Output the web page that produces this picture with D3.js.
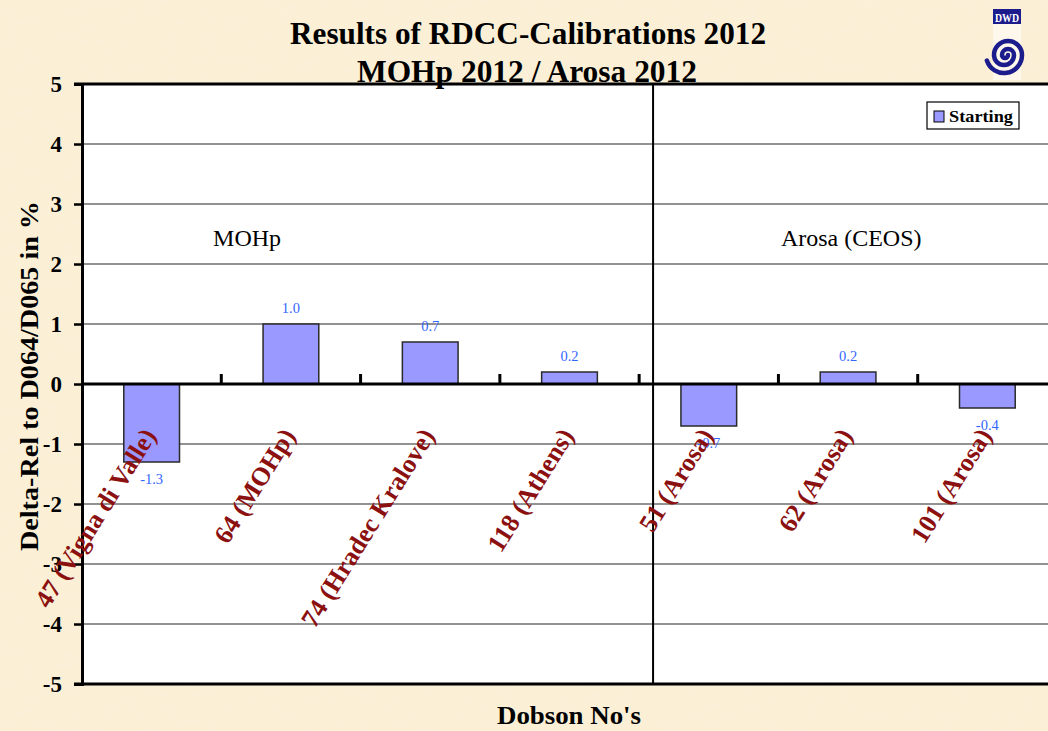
<!DOCTYPE html>
<html>
<head>
<meta charset="utf-8">
<script src="https://cdn.jsdelivr.net/npm/d3@7"></script>
<style>
  html, body { margin: 0; padding: 0; background: #fbefd4; }
  svg { display: block; }
  text { font-family: "Liberation Serif", "DejaVu Serif", serif; }
</style>
</head>
<body>
<svg id="chart" width="1048" height="731"></svg>
<script>
// ---- data ----
const categories = ["47 (Vigna di Valle)", "64 (MOHp)", "74 (Hradec Kralove)", "118 (Athens)", "51 (Arosa)", "62 (Arosa)", "101 (Arosa)"];
const startingValues = [-1.3, 1.0, 0.7, 0.2, -0.7, 0.2, -0.4];
const valueLabels = ["-1.3", "1.0", "0.7", "0.2", "-0.7", "0.2", "-0.4"];
const yTicks = [5, 4, 3, 2, 1, 0, -1, -2, -3, -4, -5];
const seriesName = "Starting";
const titleLines = ["Results of RDCC-Calibrations 2012", "MOHp 2012 / Arosa 2012"];
const groupNotes = ["MOHp", "Arosa (CEOS)"];

const W = 1048, H = 731;
const svg = d3.select("#chart");

// background with slight parchment mottling
const defs = svg.append("defs");
const flt = defs.append("filter").attr("id", "parch").attr("x", 0).attr("y", 0).attr("width", "100%").attr("height", "100%");
flt.append("feTurbulence").attr("type", "fractalNoise").attr("baseFrequency", "0.05 0.11").attr("numOctaves", 2).attr("seed", 3).attr("result", "n");
flt.append("feColorMatrix").attr("in", "n").attr("type", "matrix")
  .attr("values", "0 0 0 0 0.97  0 0 0 0 0.90  0 0 0 0 0.76  0 0 0 0.3 0");
svg.append("rect").attr("width", W).attr("height", H).attr("fill", "#fbefd4");
svg.append("rect").attr("width", W).attr("height", H).attr("filter", "url(#parch)");

const margin = { left: 82, top: 84, bottom: 684, right: 1057 };

const x = d3.scaleBand().domain(categories).range([margin.left, margin.right])
  .paddingInner(0.6).paddingOuter(0.3);
const y = d3.scaleLinear().domain([-5, 5]).range([margin.bottom, margin.top]);

// plot area
svg.append("rect").attr("x", margin.left).attr("y", margin.top)
  .attr("width", margin.right - margin.left).attr("height", margin.bottom - margin.top)
  .attr("fill", "#ffffff");

// gridlines
svg.append("g").selectAll("line").data(yTicks.filter(d => d !== 0 && Math.abs(d) !== 5)).join("line")
  .attr("x1", margin.left).attr("x2", margin.right)
  .attr("y1", d => y(d)).attr("y2", d => y(d))
  .attr("stroke", "#6e6e6e").attr("stroke-width", 1.5);
svg.append("g").selectAll("line").data([5, -5]).join("line")
  .attr("x1", margin.left - 8).attr("x2", margin.right)
  .attr("y1", d => y(d)).attr("y2", d => y(d))
  .attr("stroke", "#000").attr("stroke-width", 3);

// y axis
const yAxis = d3.axisLeft(y).tickValues(yTicks).tickSize(8).tickPadding(12).tickFormat(d => String(d));
const gy = svg.append("g").attr("transform", `translate(${margin.left},0)`).call(yAxis);
gy.select(".domain").attr("stroke", "#000").attr("stroke-width", 3);
gy.selectAll(".tick line").attr("stroke", "#000").attr("stroke-width", 2.5);
gy.selectAll(".tick text").attr("font-family", "Liberation Serif, serif").attr("font-weight", "bold")
  .attr("font-size", 23).attr("fill", "#000");

// separator line between the two groups
const sepX = margin.left + x.step() * 4.1;
svg.append("line").attr("x1", sepX).attr("x2", sepX).attr("y1", y(5)).attr("y2", y(-5))
  .attr("stroke", "#000").attr("stroke-width", 2);

// bars
svg.append("g").selectAll("rect").data(startingValues).join("rect")
  .attr("x", (d, i) => x(categories[i]))
  .attr("width", x.bandwidth())
  .attr("y", d => y(Math.max(0, d)))
  .attr("height", d => Math.abs(y(d) - y(0)))
  .attr("fill", "#9999ff").attr("stroke", "#2a2a2a").attr("stroke-width", 1.5);

// zero line (x axis)
svg.append("line").attr("x1", margin.left).attr("x2", margin.right)
  .attr("y1", y(0)).attr("y2", y(0)).attr("stroke", "#000").attr("stroke-width", 3);

// category tick marks (upward, at band boundaries)
const bounds = categories.slice(1).map(c => x(c) - x.step() * x.paddingInner() / 2);
svg.append("g").selectAll("line").data(bounds).join("line")
  .attr("x1", d => d).attr("x2", d => d)
  .attr("y1", y(0)).attr("y2", y(0) - 10)
  .attr("stroke", "#000").attr("stroke-width", 3);

// value labels
svg.append("g").selectAll("text").data(startingValues).join("text")
  .attr("x", (d, i) => x(categories[i]) + x.bandwidth() / 2)
  .attr("y", d => d >= 0 ? y(d) - 11 : y(d) + 22)
  .attr("text-anchor", "middle")
  .attr("font-size", 14.5).attr("fill", "#3366ff")
  .text((d, i) => valueLabels[i]);

// category labels (rotated)
svg.append("g").selectAll("text").data(categories).join("text")
  .attr("transform", d => `translate(${x(d) + x.bandwidth() / 2 - 10},${y(0) + 42}) rotate(-58)`)
  .attr("text-anchor", "end").attr("dy", "0.7em")
  .attr("font-size", 26).attr("font-weight", "bold").attr("fill", "#8b1010")
  .text(d => d);

// group notes
svg.append("text").attr("x", x(categories[1]) - 16).attr("y", y(2.3))
  .attr("text-anchor", "middle").attr("font-size", 24).attr("fill", "#000").text(groupNotes[0]);
svg.append("text").attr("x", x(categories[5]) + 31).attr("y", y(2.3))
  .attr("text-anchor", "middle").attr("font-size", 24).attr("fill", "#000").text(groupNotes[1]);

// legend
const lg = svg.append("g").attr("transform", "translate(927,102)");
lg.append("rect").attr("width", 92).attr("height", 27).attr("fill", "#fff")
  .attr("stroke", "#000").attr("stroke-width", 1.2);
lg.append("rect").attr("x", 7).attr("y", 9).attr("width", 10).attr("height", 11)
  .attr("fill", "#9999ff").attr("stroke", "#000").attr("stroke-width", 1);
lg.append("text").attr("x", 22).attr("y", 20).attr("font-size", 17).attr("font-weight", "bold")
  .attr("textLength", 64).attr("lengthAdjust", "spacingAndGlyphs")
  .attr("fill", "#000").text(seriesName);

// titles
svg.append("text").attr("x", 528).attr("y", 44).attr("text-anchor", "middle")
  .attr("font-size", 32).attr("font-weight", "bold").attr("textLength", 476).attr("lengthAdjust", "spacingAndGlyphs")
  .text(titleLines[0]);
svg.append("text").attr("x", 527).attr("y", 82).attr("text-anchor", "middle")
  .attr("font-size", 32).attr("font-weight", "bold").attr("textLength", 340).attr("lengthAdjust", "spacingAndGlyphs")
  .text(titleLines[1]);

// axis titles
svg.append("text").attr("transform", `translate(38,${(y(5) + y(-5)) / 2 - 8}) rotate(-90)`)
  .attr("text-anchor", "middle").attr("font-size", 26).attr("font-weight", "bold")
  .attr("textLength", 350).attr("lengthAdjust", "spacingAndGlyphs")
  .text("Delta-Rel to D064/D065 in %");
svg.append("text").attr("x", 569).attr("y", 724).attr("text-anchor", "middle")
  .attr("font-size", 26).attr("font-weight", "bold")
  .attr("textLength", 144).attr("lengthAdjust", "spacingAndGlyphs")
  .text("Dobson No's");

// DWD logo (decoration)
const logo = svg.append("g").attr("transform", "translate(993,9)");
logo.append("rect").attr("width", 28).attr("height", 71).attr("fill", "#fdf7ec");
logo.append("rect").attr("width", 28).attr("height", 15).attr("fill", "#1c1c8c");
logo.append("text").attr("x", 14).attr("y", 12.5).attr("text-anchor", "middle")
  .attr("font-family", "Liberation Sans, sans-serif").attr("font-weight", "bold").attr("font-size", 12)
  .attr("textLength", 24).attr("lengthAdjust", "spacingAndGlyphs")
  .attr("fill", "#fff").text("DWD");
const sp = d3.path();
const cx = 12, cy = 46;
sp.moveTo(cx + 3, cy);
sp.arc(cx, cy, 3, 0, Math.PI, false);
sp.arc(cx + 3, cy, 6, Math.PI, 2 * Math.PI, false);
sp.arc(cx - 1, cy, 10, 0, Math.PI, false);
sp.arc(cx + 3, cy, 14, Math.PI, 2 * Math.PI, false);
sp.arc(cx - 1, cy, 18, 0, Math.PI * 0.9, false);
logo.append("path").attr("d", sp.toString()).attr("fill", "none")
  .attr("stroke", "#1c1c8c").attr("stroke-width", 4.5).attr("stroke-linecap", "round");
</script>
</body>
</html>
